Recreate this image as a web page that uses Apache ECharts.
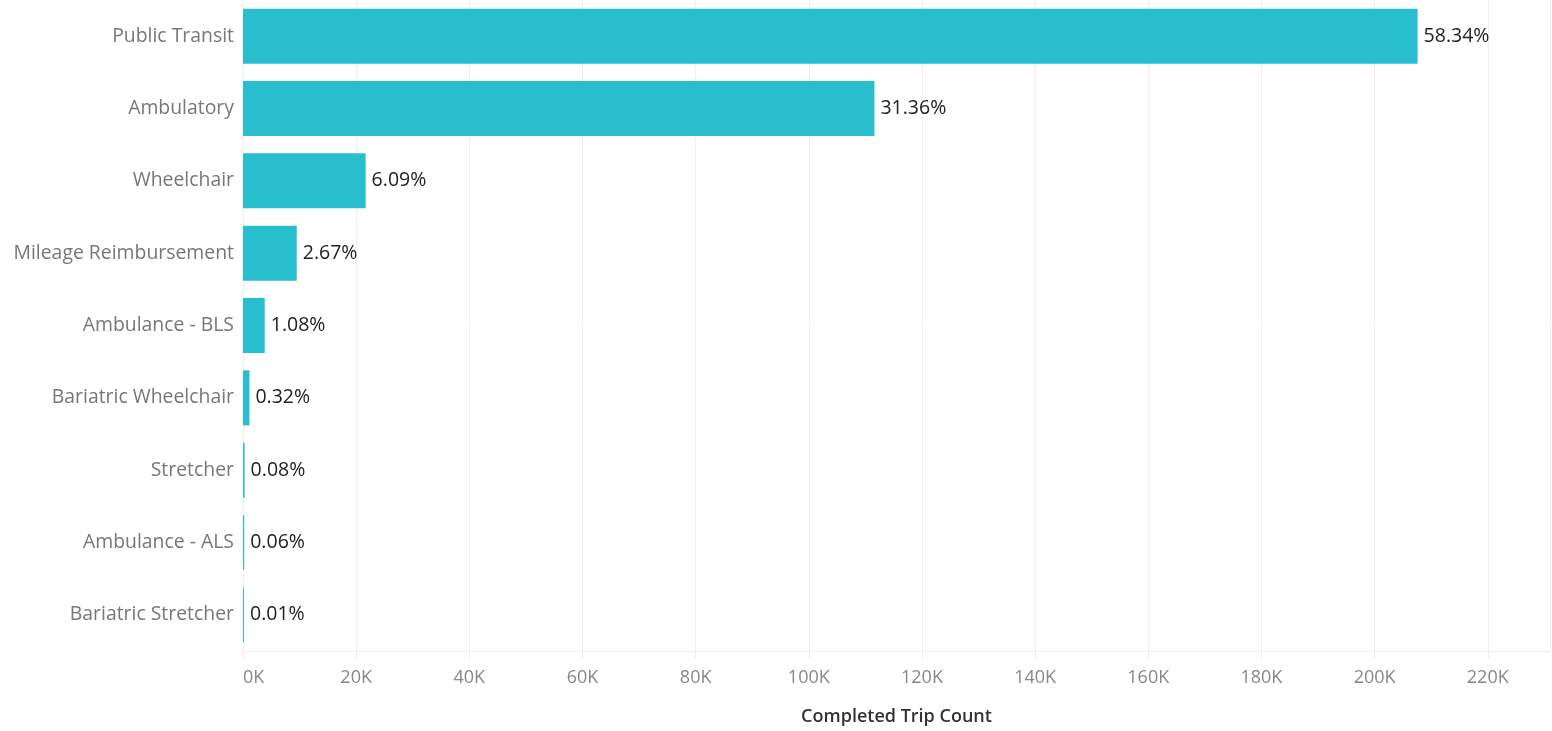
<!DOCTYPE html>
<html>
<head>
<meta charset="utf-8">
<script src="https://cdn.jsdelivr.net/npm/echarts@6/dist/echarts.min.js"></script>
<style>html,body{margin:0;padding:0;background:#fff;}#c{width:1552px;height:731px;}</style>
</head>
<body>
<div id="c"></div>
<script>
const categories = ["Public Transit","Ambulatory","Wheelchair","Mileage Reimbursement","Ambulance - BLS","Bariatric Wheelchair","Stretcher","Ambulance - ALS","Bariatric Stretcher"];
const tripCounts = [207600, 111600, 21670, 9500, 3840, 1140, 285, 213, 36];
const shareLabels = ["58.34%","31.36%","6.09%","2.67%","1.08%","0.32%","0.08%","0.06%","0.01%"];

const chart = echarts.init(document.getElementById('c'));
chart.setOption({
  animation: false,
  grid: {left: 243, right: 2, top: -3, bottom: 79.4, containLabel: false},
  xAxis: {
    type: 'value', min: 0, max: 231000, interval: 20000,
    name: 'Completed Trip Count', nameLocation: 'middle', nameGap: 57,
    nameTextStyle: {color: '#333', fontSize: 18, fontFamily: 'Open Sans', fontWeight: 600},
    axisLine: {show: true, lineStyle: {color: '#ececec', width: 1}},
    axisTick: {show: true, length: 7, lineStyle: {color: '#ececec'}},
    splitLine: {show: true, lineStyle: {color: '#f0f0f0', width: 1}},
    axisLabel: {
      color: '#888', fontSize: 18, fontFamily: 'Open Sans', margin: 18,
      alignMinLabel: 'left', showMaxLabel: false,
      formatter: v => (v % 20000 === 0 ? (v / 1000) + 'K' : '')
    }
  },
  yAxis: {
    type: 'category', data: categories, inverse: true,
    axisLine: {show: false}, axisTick: {show: false}, splitLine: {show: false},
    axisLabel: {color: '#777', fontSize: 19.4, fontFamily: 'Open Sans', margin: 9}
  },
  series: [{
    type: 'bar', data: tripCounts, barWidth: 55, barMinHeight: 1,
    itemStyle: {color: '#29becd'},
    label: {
      show: true, position: 'right', distance: 6,
      color: '#222', fontSize: 19.5, fontFamily: 'Open Sans',
      formatter: p => shareLabels[p.dataIndex]
    }
  }]
});
</script>
</body>
</html>
